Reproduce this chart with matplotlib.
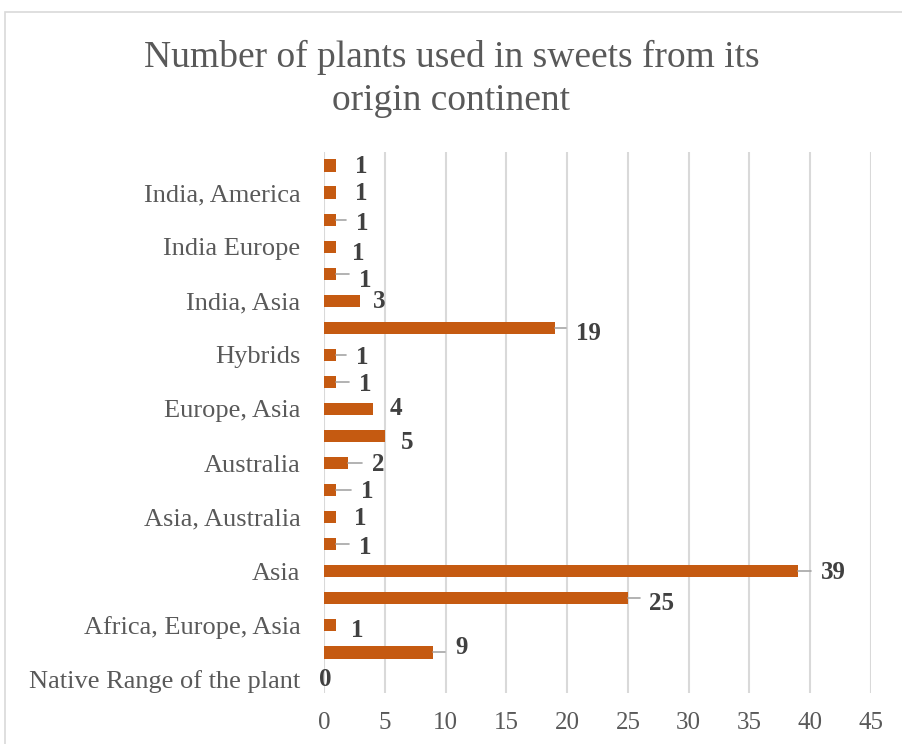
'''
    Horizontal bar chart: plants used in sweets by origin continent
'''
import matplotlib.pyplot as plt
from matplotlib.patches import Rectangle

# categories bottom to top, only every other one has a visible label
categories = ['Native Range of the plant', '', 'Africa, Europe, Asia', '', 'Asia', '',
              'Asia, Australia', '', 'Australia', '', 'Europe, Asia', '', 'Hybrids', '',
              'India, Asia', '', 'India Europe', '', 'India, America', '']
counts = [0, 9, 1, 25, 39, 1, 1, 1, 2, 5, 4, 1, 1, 19, 3, 1, 1, 1, 1, 1]
xticks = [0, 5, 10, 15, 20, 25, 30, 35, 40, 45]

# label offsets (pixels right / up from bar end) and whether Excel drew a leader line
label_dx = [1, 28, 21, 34, 35, 29, 24, 31, 30, 22, 23, 29, 26, 33, 19, 29, 22, 26, 25, 25]
label_dy = [0, 5, -5, -5, -1, -3, -1, -1, -1, -6, 0, -3, -3, -6, -1, -7, -7, -4, -1, -1]
leader = [False, True, False, True, True, True, False, True, True, False, False, True,
          True, True, False, True, False, True, False, False]

plt.rcParams['font.family'] = ['Liberation Serif', 'DejaVu Serif']

fig = plt.figure(figsize=(9.03, 7.44), dpi=100)
fig.patches.append(Rectangle((5 / 903, -0.01), 1.0, (744 - 12) / 744 + 0.01,
                             transform=fig.transFigure, fill=False,
                             edgecolor='#D9D9D9', linewidth=1.2))

ax = fig.add_axes([324 / 903, (744 - 693) / 744, (871 - 324) / 903, (693 - 152) / 744])
y = list(range(len(categories)))
ax.barh(y, counts, height=0.45, color='#C55A11', zorder=3)

ax.set_xlim(0, 45)
ax.set_ylim(-0.5, len(categories) - 0.5)
ax.set_xticks(xticks)
ax.set_yticks(y)
ax.set_yticklabels(categories)
ax.tick_params(axis='y', length=0, labelsize=19, labelcolor='#595959', pad=17)
ax.tick_params(axis='x', length=0, labelsize=18, labelcolor='#595959', pad=14)
ax.xaxis.grid(True, color='#D9D9D9', linewidth=1.5, zorder=0)
for s in ax.spines.values():
    s.set_visible(False)

for i, v in enumerate(counts):
    kw = {}
    if leader[i]:
        kw['arrowprops'] = dict(arrowstyle='-', color='#A6A6A6', lw=1.2, relpos=(0, 0.5),
                                shrinkA=5, shrinkB=0,
                                connectionstyle='angle,angleA=90,angleB=0,rad=2')
    ax.annotate(str(v), xy=(v, i), xytext=(label_dx[i] * 0.72, label_dy[i] * 0.72),
                textcoords='offset points', ha='center', va='center',
                fontsize=18, fontweight='bold', color='#404040', **kw)

fig.text(0.5, 1 - 79 / 744, 'Number of plants used in sweets from its\norigin continent',
         ha='center', va='center', fontsize=27, color='#595959', linespacing=1.3)

fig.savefig('out.png', dpi=100)
